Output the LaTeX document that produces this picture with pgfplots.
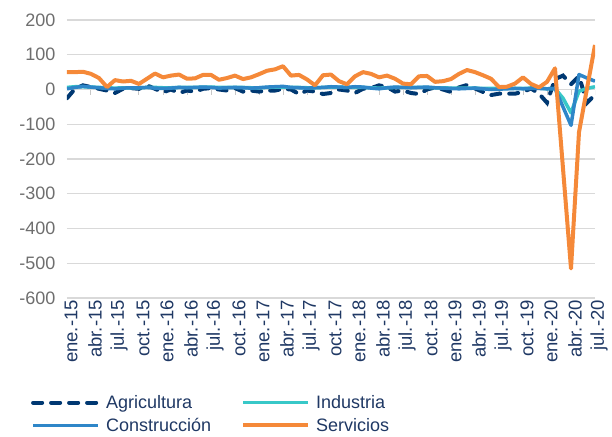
\documentclass[border=0pt]{standalone}
\usepackage{fontspec}
\setmainfont{Liberation Sans}
\usepackage{pgfplots}
\pgfplotsset{compat=1.18}
\usepackage{pgfplotstable}

\definecolor{agri}{RGB}{0,56,114}
\definecolor{indu}{RGB}{56,200,200}
\definecolor{cons}{RGB}{46,134,200}
\definecolor{serv}{RGB}{245,137,57}
\definecolor{labnavy}{RGB}{31,56,100}
\definecolor{labgray}{RGB}{110,110,110}
\definecolor{gridgray}{RGB}{217,217,217}

% month index (0 = ene.-15), one column per sector
\pgfplotstableread{
m agr ind con ser
0 -25 6 2 50
1 2 8 6 50
2 12 8 9 51
3 7 7 7 45
4 2 6 5 33
5 -3 5 3 7
6 -10 4 2 27
7 2 5 4 23
8 4 5 5 25
9 2 5 5 16
10 12 6 6 31
11 2 6 4 46
12 -8 5 3 35
13 0 5 4 40
14 -10 6 6 43
15 -3 6 5 31
16 -6 6 6 32
17 2 7 7 42
18 4 7 6 42
19 0 6 4 28
20 -3 6 5 33
21 4 6 6 40
22 -6 6 5 30
23 -3 5 4 35
24 -6 5 5 44
25 -3 6 7 54
26 -3 7 8 58
27 2 7 9 67
28 0 6 6 40
29 -13 6 5 42
30 -3 5 4 29
31 -6 5 5 12
32 -13 6 6 41
33 -10 7 8 43
34 0 7 7 24
35 -3 6 6 15
36 -10 6 8 38
37 2 6 7 50
38 4 5 4 45
39 12 4 2 35
40 7 5 5 40
41 -6 6 7 31
42 -3 6 6 17
43 -10 6 5 15
44 -13 6 6 38
45 0 6 7 39
46 6 5 5 22
47 0 5 4 24
48 -7 4 3 30
49 6 4 2 45
50 13 4 3 56
51 3 4 4 50
52 -7 3 2 41
53 -16 3 0 31
54 -12 3 1 7
55 -12 3 2 8
56 -12 3 3 17
57 -7 3 2 35
58 3 4 3 16
59 -12 4 3 6
60 -38 2 2 22
61 30 3 3 61
62 40 -25 -50 -227
63 15 -67 -103 -515
64 38 -5 43 -123
65 -38 3 33 3
66 -15 8 24 128
}\datatable

\begin{document}
\begin{tikzpicture}
\begin{axis}[
    name=ax,
    scale only axis,
    width=528pt,
    height=278pt,
    xmin=0, xmax=66,
    ymin=-600, ymax=200,
    axis line style={draw=none},
    major tick length=0pt,
    xtick={0,3,...,66},
    xticklabels={ene.-15,abr.-15,jul.-15,oct.-15,ene.-16,abr.-16,jul.-16,oct.-16,
        ene.-17,abr.-17,jul.-17,oct.-17,ene.-18,abr.-18,jul.-18,oct.-18,
        ene.-19,abr.-19,jul.-19,oct.-19,ene.-20,abr.-20,jul.-20},
    x tick label style={rotate=90, anchor=east, font=\fontsize{18.5}{20}\selectfont,
        text=labnavy, inner sep=2pt, yshift=-4pt},
    ytick={-600,-500,...,200},
    yticklabels={-600,-500,-400,-300,-200,-100,0,100,200},
    y tick label style={font=\fontsize{18}{20}\selectfont, text=labgray, xshift=-8pt},
    ymajorgrids,
    grid style={line width=1.3pt, gridgray},
    legend columns=2,
    legend cell align=left,
    legend style={
        at={(axis description cs:-0.074,-0.335)},
        anchor=north west,
        draw=none,
        fill=none,
        font=\fontsize{18}{20}\selectfont,
        text=labnavy,
        nodes={inner sep=2pt},
        row sep=4pt,
        /tikz/every odd column/.append style={column sep=4pt},
        /tikz/every even column/.append style={column sep=28pt},
    },
    legend image code/.code={\draw[#1] (0pt,0pt) -- (65pt,0pt);},
]
\pgfplotsinvokeforeach{0,3,...,66}{
    \draw[gridgray!80!gray, line width=1pt] (axis cs:#1,0) -- ++(0pt,-5pt);
}
\addplot[agri, line width=4pt, line cap=round, dash pattern=on 9pt off 9pt]
    table[x=m, y=agr] {\datatable};
\addplot[indu, line width=3.5pt, line join=round]
    table[x=m, y=ind] {\datatable};
\addplot[cons, line width=3.5pt, line join=round]
    table[x=m, y=con] {\datatable};
\addplot[serv, line width=4pt, line join=round]
    table[x=m, y=ser] {\datatable};
\legend{Agricultura, Industria, Construcción, Servicios}
\end{axis}
\path (ax.south west) ++(-67pt,-136pt) rectangle ++(612pt,434pt);
\end{tikzpicture}
\end{document}
